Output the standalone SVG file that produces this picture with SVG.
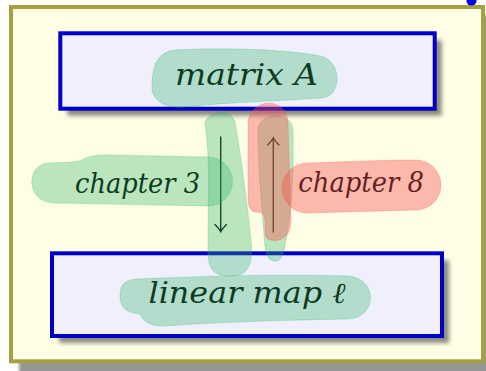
<svg xmlns="http://www.w3.org/2000/svg" width="486" height="371" viewBox="0 0 486 371">
<style>
.box{fill:#f0f0fc;stroke:#0000c4;stroke-width:4}
.lbl{font-family:"DejaVu Serif","Liberation Serif",serif;font-style:italic;fill:#000}
.big{font-size:29px}
.mid{font-size:27px}
.arr{fill:none;stroke:#111;stroke-width:1.4;stroke-linecap:round}
.hg{fill:#2fb467;fill-opacity:0.32;stroke:#2fb467;stroke-opacity:0.25;stroke-width:1}
.hr{fill:#f95150;fill-opacity:0.4;stroke:#f95150;stroke-opacity:0.25;stroke-width:1}
</style>
<defs>
<filter id="sh" x="-10%" y="-20%" width="120%" height="140%"><feGaussianBlur stdDeviation="2"/></filter>
<filter id="fsh" x="-5%" y="-5%" width="110%" height="110%"><feGaussianBlur stdDeviation="1.5"/></filter>
</defs>
<g id="frame">
<rect x="19" y="15" width="478" height="360" fill="#969696" filter="url(#fsh)"/>
<rect x="11" y="7" width="472" height="354.3" fill="#fefee6" stroke="#a6a040" stroke-width="4"/>
<ellipse cx="471.5" cy="1" rx="5" ry="4.5" fill="#0000e6"/>
</g>
<g id="node-matrix">
<rect x="67.3" y="40.3" width="374.4" height="75.4" fill="#000" opacity="0.45" filter="url(#sh)"/>
<rect class="box" x="60.3" y="33.3" width="374.4" height="75.4"/>
<text class="lbl big" x="175" y="85" textLength="143" lengthAdjust="spacingAndGlyphs">matrix A</text>
</g>
<g id="node-linear">
<rect x="59" y="260.3" width="390" height="82.7" fill="#000" opacity="0.45" filter="url(#sh)"/>
<rect class="box" x="52" y="253.3" width="390" height="82.7"/>
<text class="lbl big" x="148.5" y="303.3" textLength="197" lengthAdjust="spacingAndGlyphs">linear map ℓ</text>
</g>
<g id="connectors">
<path class="arr" d="M220.7,137 L220.7,231.5 M215,224.5 Q219,228.5 220.7,231.7 Q222.4,228.5 226.4,224.5"/>
<path class="arr" d="M273.3,232 L273.3,138 M267.6,145 Q271.6,141 273.3,137.7 Q275,141 279,145"/>
<text class="lbl mid" x="75" y="192.7" textLength="125" lengthAdjust="spacingAndGlyphs">chapter 3</text>
<text class="lbl mid" x="298.3" y="192.3" textLength="125.7" lengthAdjust="spacingAndGlyphs">chapter 8</text>
</g>
<g id="highlights">
<path class="hg" d="M175,50 C230,47 290,50 320,56 C342,60 343,96 322,98 C280,101 230,102 185,107 C165,109 152,100 152,88 C152,70 155,52 175,50 Z"/>
<path class="hg" d="M140,279 C200,276 280,274 348,276 C378,278 378,318 348,319 C290,320 220,322 165,326 C150,327 142,320 140,314 C130,313 120,310 120,296 C120,282 128,279 140,279 Z"/>
<path class="hg" d="M50,163 C65,162 75,163 82,160 C88,156 95,155 110,155 L208,157 A24.5,24.5 0 0 1 208,206 L55,203 C25,203 25,163 50,163 Z"/>
<path class="hg" d="M205,125 C205,110 232,108 235,122 C240,150 247,200 251,240 C254,270 245,276 230,276 C212,276 208,268 208,250 C208,200 210,150 205,125 Z"/>
<path class="hg" d="M258,130 C258,112 292,110 293,130 C294,170 292,210 286,240 C283,258 280,262 274,261 C266,260 265,250 264,235 C261,200 258,160 258,130 Z"/>
<path class="hr" d="M248,125 C248,98 286,95 288,122 L291,220 C291,238 280,242 270,240 C264,239 265,230 265,222 C265,214 262,212 255,212 C249,211 248,205 248,195 Z"/>
<path class="hr" d="M307,163 C340,162 380,160 416,160 A25,25 0 0 1 416,210 C380,211 340,212 307,213 A25,25 0 0 1 307,163 Z"/>
</g>
</svg>
